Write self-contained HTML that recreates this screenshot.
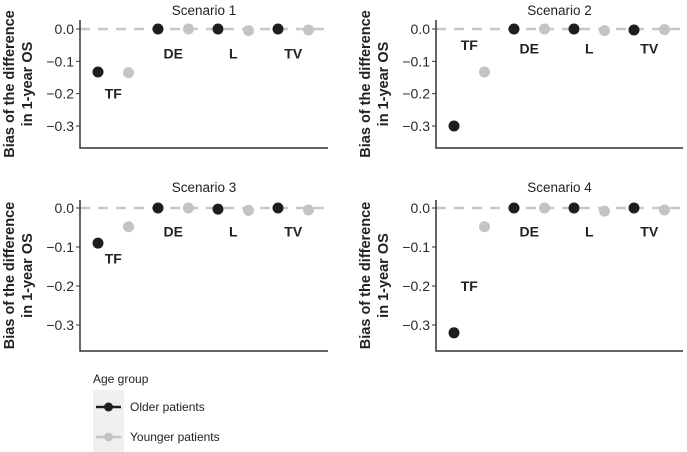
<!DOCTYPE html>
<html><head><meta charset="utf-8"><style>
body{margin:0;background:#fff;}
svg{display:block;font-family:"Liberation Sans",sans-serif;}
</style></head><body>
<svg id="c" width="687" height="452"></svg>
<script>
const methods = ["TF","DE","L","TV"];
const olderS1 = [-0.133, 0, 0, 0];
const youngerS1 = [-0.135, 0, -0.005, -0.003];
const olderS2 = [-0.30, 0, 0, -0.003];
const youngerS2 = [-0.133, 0, -0.005, -0.002];
const olderS3 = [-0.09, 0, -0.003, 0];
const youngerS3 = [-0.048, 0, -0.006, -0.005];
const olderS4 = [-0.32, 0, 0, 0];
const youngerS4 = [-0.048, 0, -0.008, -0.005];
const yTicks = [0.0, -0.1, -0.2, -0.3];
const yTickLabels = ["0.0","\u22120.1","\u22120.2","\u22120.3"];
const titles = ["Scenario 1","Scenario 2","Scenario 3","Scenario 4"];
const labelYs = [[-0.2,-0.075,-0.075,-0.075],[-0.05,-0.06,-0.06,-0.06],[-0.13,-0.06,-0.06,-0.06],[-0.2,-0.06,-0.06,-0.06]];
const NS="http://www.w3.org/2000/svg";
const svg=document.getElementById('c');
function mk(t,a,p){const e=document.createElementNS(NS,t);for(const k in a)e.setAttribute(k,a[k]);(p||svg).appendChild(e);return e;}
const panels=[
 {x0:80,x1:328,top:20,y0:29,y3:126,bot:148,ty:11,o:olderS1,y:youngerS1},
 {x0:436,x1:683,top:20,y0:29,y3:126,bot:148,ty:11,o:olderS2,y:youngerS2},
 {x0:80,x1:328,top:200,y0:208,y3:325,bot:351,ty:188,o:olderS3,y:youngerS3},
 {x0:436,x1:683,top:200,y0:208,y3:325,bot:351,ty:188,o:olderS4,y:youngerS4}];
panels.forEach((p,i)=>{
 const g=mk('g',{});
 
 
 const ys=v=>p.y0+(p.y3-p.y0)*(v/-0.3);
 const xs=(j,k)=>p.x0+18+j*60+k*30.5;
 const t=mk('text',{x:(p.x0+p.x1)/2,y:p.ty+4,'text-anchor':'middle','font-size':'13.5',fill:'#222'},g);t.textContent=titles[i];
 
 const ref=mk('line',{x1:p.x0,x2:p.x1,y1:ys(0),y2:ys(0),stroke:'#c8c8c8','stroke-width':2.5,'stroke-dasharray':'10,8'},g);
 
 const ax=mk('path',{d:`M${p.x0} ${p.top}V${p.bot}H${p.x1}`,stroke:'#333','stroke-width':1.5,fill:'none'},g);
 
 yTicks.forEach((v,k)=>{
  mk('line',{x1:p.x0-4,x2:p.x0,y1:ys(v),y2:ys(v),stroke:'#333'},g);
  const tl=mk('text',{x:p.x0-6,y:ys(v)+5,'text-anchor':'end','font-size':'14',fill:'#2a2a2a'},g);tl.textContent=yTickLabels[k];
  
 });
 const yt=mk('text',{transform:`translate(${p.x0-66},${(p.top+p.bot)/2}) rotate(-90)`,'text-anchor':'middle','font-size':'14.5','font-weight':'bold',fill:'#222'},g);
 
 const s1=mk('tspan',{x:0,dy:0},yt);s1.textContent='Bias of the difference';
 const s2=mk('tspan',{x:0,dy:18},yt);s2.textContent='in 1-year OS';
 methods.forEach((m,j)=>{
  const cy=mk('circle',{cx:xs(j,1),cy:ys(p.y[j]),r:5.5,fill:'#c4c4c4'},g);
  
  const co=mk('circle',{cx:xs(j,0),cy:ys(p.o[j]),r:5.5,fill:'#1e1e1e'},g);
  
  const lb=mk('text',{x:xs(j,0.5),y:ys(labelYs[i][j])+5,'text-anchor':'middle','font-size':'14','font-weight':'bold',fill:'#222'},g);
  lb.textContent=m;
 });
});
const lg=mk('g',{});

const lt=mk('text',{x:93,y:383,'font-size':'12',fill:'#222'},lg);lt.textContent='Age group';
mk('rect',{x:93,y:390,width:31,height:62,fill:'#f0f0f0'},lg);
[['Older patients','#1e1e1e',407],['Younger patients','#c4c4c4',437]].forEach(([n,c,y])=>{
 mk('line',{x1:96,x2:121,y1:y,y2:y,stroke:c,'stroke-width':2.5},lg);
 mk('circle',{cx:108.5,cy:y,r:4.5,fill:c},lg);
 const t=mk('text',{x:130,y:y+4,'font-size':'12',fill:'#222'},lg);t.textContent=n;
 
});
</script>
</body></html>
